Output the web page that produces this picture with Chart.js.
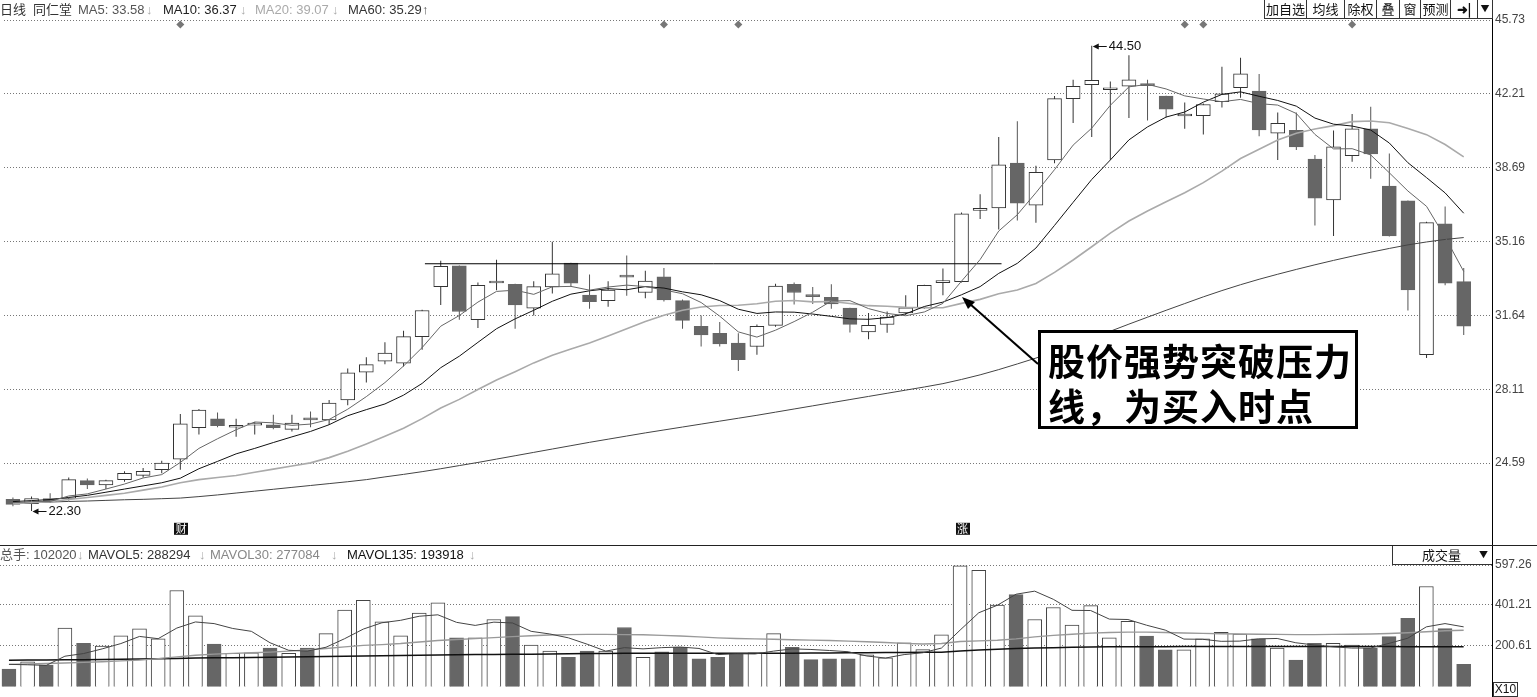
<!DOCTYPE html>
<html>
<head>
<meta charset="utf-8">
<title>同仁堂 日线</title>
<script src="https://cdn.jsdelivr.net/npm/chart.js@4.4.1/dist/chart.umd.min.js"></script>
<style>
  html, body { margin: 0; padding: 0; background: #fff; }
  body { position: relative; width: 1537px; height: 697px; overflow: hidden;
         font-family: "Liberation Sans", Arial, "Noto Sans CJK SC", sans-serif; color: #333; }
  canvas { position: absolute; left: 0; }
  .t { position: absolute; font-size: 13px; line-height: 16px; white-space: nowrap; }
  .ar { position: absolute; font-size: 13px; line-height: 16px; font-weight: bold; color: #aaa; }
  #btns { position: absolute; left: 1265px; top: 0; display: flex; }
  #btns span { box-sizing: border-box; height: 19px; border: 1px solid #333; border-top: none;
               margin-left: -1px; font: 13px/18px "Noto Sans CJK SC", sans-serif; color: #111;
               text-align: center; background: #fff; }
  #axisLine { position: absolute; left: 1492px; top: 0; width: 1px; height: 697px; background: #000; }
  #sep { position: absolute; left: 0; top: 545px; width: 1537px; height: 1px; background: #222; }
  #volSel { position: absolute; left: 1392px; top: 546px; width: 100px; height: 19px; box-sizing: border-box;
            border-left: 1px solid #333; border-bottom: 1px solid #333; background: #fff;
            font: 13px/18px "Noto Sans CJK SC", sans-serif; color: #111; }
  #x10 { position: absolute; left: 1493px; top: 682px; width: 25px; height: 15px; box-sizing: border-box;
         border: 1px solid #333; font-size: 12px; line-height: 13px; text-align: center; color: #111; }
  #note { position: absolute; left: 1038px; top: 330px; width: 320px; height: 99px; box-sizing: border-box;
          border: 3px solid #000; background: #fff; padding: 5px 0 0 7px; letter-spacing: 1px;
          font: 700 37px/45px "Noto Sans CJK SC", sans-serif; color: #000; white-space: nowrap; }
  svg { position: absolute; left: 0; top: 0; }
</style>
</head>
<body>
<canvas id="priceChart" width="1537" height="546" style="top:0"></canvas>
<canvas id="volChart" width="1537" height="151" style="top:546px"></canvas>

<div id="axisLine"></div>
<div id="sep"></div>

<!-- price header -->
<span class="t" style="left:0;top:2px">日线</span>
<span class="t" style="left:33px;top:2px">同仁堂</span>
<span class="t" style="left:78px;top:2px;color:#555">MA5: 33.58</span><span class="ar" style="left:146px;top:2px">↓</span>
<span class="t" style="left:163px;top:2px;color:#222">MA10: 36.37</span><span class="ar" style="left:240px;top:2px">↓</span>
<span class="t" style="left:255px;top:2px;color:#aaa">MA20: 39.07</span><span class="ar" style="left:332px;top:2px">↓</span>
<span class="t" style="left:348px;top:2px;color:#333">MA60: 35.29</span><span class="ar" style="left:422px;top:2px;color:#555">↑</span>

<div id="btns">
  <span style="width:43px">加自选</span><span style="width:39px">均线</span><span style="width:33px">除权</span><span style="width:24px">叠</span><span style="width:22px">窗</span><span style="width:31px">预测</span><span style="width:28px;font-weight:bold">➜|</span><span style="width:16px;font-size:9px">▼</span>
</div>

<!-- volume header -->
<span class="t" style="left:0;top:547px;color:#555">总手: 102020</span><span class="ar" style="left:77px;top:547px">↓</span>
<span class="t" style="left:88px;top:547px;color:#333">MAVOL5: 288294</span><span class="ar" style="left:199px;top:547px">↓</span>
<span class="t" style="left:210px;top:547px;color:#888">MAVOL30: 277084</span><span class="ar" style="left:331px;top:547px">↓</span>
<span class="t" style="left:347px;top:547px;color:#111">MAVOL135: 193918</span><span class="ar" style="left:469px;top:547px">↓</span>

<div id="volSel"><span style="position:absolute;left:29px">成交量</span><span style="position:absolute;left:86px;font-size:9px">▼</span></div>
<div id="x10">X10</div>

<svg width="1537" height="697">
  <line x1="1038" y1="364" x2="970" y2="304" stroke="#000" stroke-width="2"/>
  <polygon points="962,297 975,302 968,309" fill="#000"/>
</svg>
<div id="note">股价强势突破压力<br>线，为买入时点</div>

<script>
// ===== 同仁堂 日K线 + 成交量 =====

const priceTicks = [24.59, 28.11, 31.64, 35.16, 38.69, 42.21, 45.73];
const volTicks = [200.61, 401.21, 597.26];

const opens = [22.86, 22.65, 22.90, 22.90, 23.75, 23.55, 23.80, 24.00, 24.27, 24.78,
  26.28, 26.70, 26.30, 26.40, 26.42, 26.20, 26.68, 26.65, 27.60, 28.93,
  29.45, 29.36, 30.62, 33.01, 34.00, 31.43, 33.18, 33.12, 31.98, 32.99,
  34.13, 32.60, 32.34, 33.50, 32.73, 33.48, 32.34, 31.12, 30.78, 30.31,
  30.15, 31.16, 33.12, 32.55, 32.50, 31.98, 30.85, 31.20, 31.75, 31.99,
  33.20, 33.24, 36.65, 36.76, 38.90, 36.90, 39.05, 41.98, 42.65, 42.40,
  42.57, 42.62, 42.10, 41.15, 41.16, 41.83, 42.50, 42.34, 40.33, 40.46,
  39.10, 37.15, 39.26, 40.54, 37.80, 37.10, 29.76, 36.01, 33.25];
const highs = [22.95, 23.00, 23.15, 23.90, 23.85, 23.80, 24.20, 24.35, 24.70, 26.93,
  27.17, 27.00, 26.70, 26.55, 26.90, 26.90, 27.05, 27.60, 29.10, 29.64,
  30.35, 30.90, 31.90, 34.24, 34.02, 33.20, 34.29, 33.14, 33.27, 35.15,
  34.15, 33.59, 33.27, 34.49, 33.77, 33.90, 32.40, 31.63, 31.32, 30.78,
  31.20, 33.15, 33.20, 32.99, 33.12, 32.00, 31.75, 31.82, 32.60, 33.10,
  33.87, 36.55, 37.42, 40.15, 40.90, 38.77, 42.10, 42.88, 44.50, 42.80,
  44.05, 42.88, 42.12, 41.79, 41.75, 43.50, 43.93, 43.15, 41.32, 41.32,
  39.29, 40.46, 41.24, 41.59, 39.36, 37.12, 36.10, 36.83, 33.90];
const lows = [22.53, 22.30, 22.70, 22.80, 23.35, 23.35, 23.70, 23.90, 24.10, 24.27,
  25.95, 26.30, 25.85, 25.95, 26.20, 26.10, 26.30, 26.42, 27.35, 28.43,
  29.30, 29.20, 30.00, 32.13, 31.43, 31.04, 32.84, 31.00, 31.63, 32.68,
  33.00, 31.95, 32.05, 32.57, 32.45, 32.30, 31.00, 30.15, 30.15, 28.98,
  29.76, 31.10, 32.15, 32.18, 31.95, 30.82, 30.50, 30.81, 31.65, 31.95,
  32.60, 33.20, 36.24, 35.74, 36.16, 36.06, 38.90, 40.82, 40.15, 39.06,
  41.05, 40.93, 41.08, 40.54, 40.27, 41.55, 42.02, 40.18, 39.05, 39.53,
  35.93, 35.43, 38.97, 38.15, 35.40, 31.87, 29.60, 33.08, 30.70];
const closes = [22.62, 22.90, 22.75, 23.80, 23.55, 23.75, 24.10, 24.20, 24.59, 26.46,
  27.12, 26.37, 26.35, 26.45, 26.28, 26.50, 26.65, 27.45, 28.90, 29.29,
  29.84, 30.62, 31.87, 33.98, 31.82, 33.07, 33.22, 32.13, 33.01, 33.62,
  33.17, 32.29, 32.84, 33.46, 33.27, 32.38, 31.40, 30.70, 30.27, 29.52,
  31.12, 33.04, 32.73, 32.53, 32.18, 31.21, 31.16, 31.56, 32.00, 33.07,
  33.25, 36.48, 36.68, 38.82, 36.99, 38.46, 41.98, 42.57, 42.85, 42.42,
  42.88, 42.60, 41.47, 41.16, 41.70, 42.21, 43.16, 40.49, 40.80, 39.68,
  37.23, 39.68, 40.54, 39.34, 35.43, 32.85, 36.06, 33.17, 31.12];

const ma5 = [22.70, 22.76, 22.76, 23.02, 23.12, 23.35, 23.59, 23.88, 24.04, 24.62,
  25.29, 25.75, 26.18, 26.55, 26.51, 26.39, 26.45, 26.67, 27.16, 27.76,
  28.43, 29.22, 30.10, 31.12, 31.63, 32.27, 32.78, 32.84, 32.64, 33.00,
  33.02, 32.84, 32.99, 33.08, 33.01, 32.85, 32.67, 32.25, 31.60, 30.85,
  30.60, 30.93, 31.34, 31.79, 32.32, 32.34, 31.96, 31.73, 31.62, 31.80,
  32.21, 33.27, 34.30, 35.66, 36.44, 37.49, 38.59, 39.76, 40.57, 41.66,
  42.54, 42.66, 42.44, 42.11, 41.96, 41.83, 41.94, 41.74, 41.67, 41.27,
  40.27, 39.58, 39.59, 39.29, 38.44, 37.57, 36.84, 35.37, 33.73];
const ma10 = [22.75, 22.80, 22.85, 22.95, 23.05, 23.20, 23.35, 23.50, 23.65, 23.87,
  24.32, 24.67, 25.03, 25.29, 25.57, 25.84, 26.10, 26.42, 26.85, 27.14,
  27.41, 27.83, 28.39, 29.14, 29.69, 30.35, 31.00, 31.47, 31.88, 32.31,
  32.65, 32.81, 32.91, 32.86, 33.01, 32.94, 32.76, 32.62, 32.34, 31.93,
  31.73, 31.80, 31.79, 31.70, 31.59, 31.47, 31.45, 31.53, 31.71, 32.06,
  32.27, 32.62, 33.01, 33.64, 34.12, 34.85, 35.93, 37.03, 38.12, 39.05,
  40.01, 40.63, 41.10, 41.34, 41.81, 42.18, 42.30, 42.09, 41.89, 41.62,
  41.05, 40.76, 40.67, 40.48, 39.86, 38.92, 38.21, 37.48, 36.51];
const ma20 = [22.65, 22.70, 22.75, 22.85, 22.95, 23.05, 23.15, 23.30, 23.45, 23.65,
  23.80, 23.90, 24.00, 24.15, 24.30, 24.45, 24.60, 24.85, 25.15, 25.50,
  25.87, 26.25, 26.71, 27.22, 27.63, 28.10, 28.55, 28.95, 29.37, 29.73,
  30.03, 30.32, 30.65, 31.00, 31.35, 31.64, 31.88, 32.04, 32.11, 32.12,
  32.19, 32.31, 32.35, 32.28, 32.30, 32.20, 32.10, 32.07, 32.02, 32.00,
  32.00, 32.21, 32.40, 32.67, 32.85, 33.16, 33.69, 34.28, 34.91, 35.56,
  36.14, 36.62, 37.06, 37.49, 37.97, 38.52, 39.12, 39.56, 40.00, 40.33,
  40.53, 40.69, 40.88, 40.91, 40.83, 40.55, 40.26, 39.79, 39.20];
const ma60 = [22.68, 22.70, 22.73, 22.76, 22.78, 22.81, 22.84, 22.86, 22.89, 22.92,
  22.99, 23.07, 23.16, 23.25, 23.34, 23.43, 23.52, 23.61, 23.70, 23.80,
  23.93, 24.05, 24.18, 24.32, 24.47, 24.62, 24.78, 24.94, 25.10, 25.26,
  25.42, 25.58, 25.73, 25.88, 26.03, 26.17, 26.31, 26.45, 26.59, 26.73,
  26.87, 27.02, 27.17, 27.32, 27.47, 27.62, 27.77, 27.92, 28.07, 28.22,
  28.38, 28.58, 28.80, 29.05, 29.32, 29.60, 29.90, 30.22, 30.55, 30.88,
  31.22, 31.55, 31.88, 32.20, 32.52, 32.82, 33.10, 33.36, 33.60, 33.83,
  34.05, 34.26, 34.46, 34.65, 34.83, 35.00, 35.14, 35.26, 35.35];

// 成交量 (thousand lots)
const volumes = [87, 122, 107, 288, 213, 200, 250, 284, 235, 472,
  348, 210, 164, 167, 190, 164, 190, 261, 376, 424,
  318, 250, 361, 412, 240, 240, 330, 344, 205, 175,
  145, 175, 175, 291, 145, 172, 193, 137, 145, 163,
  167, 261, 193, 133, 137, 137, 157, 142, 216, 182,
  255, 593, 571, 401, 452, 330, 389, 303, 398, 240,
  321, 249, 181, 181, 235, 267, 258, 235, 190, 131,
  213, 213, 204, 190, 246, 336, 492, 285, 110];
const mavol5 = [110, 108, 105, 150, 163, 186, 212, 247, 236, 288,
  318, 310, 286, 272, 216, 179, 175, 194, 236, 283,
  314, 326, 346, 353, 316, 301, 317, 313, 272, 259,
  240, 209, 175, 192, 186, 192, 195, 188, 158, 162,
  161, 175, 186, 183, 178, 172, 151, 141, 158, 167,
  190, 278, 363, 400, 454, 469, 429, 375, 374, 332,
  330, 302, 278, 234, 233, 223, 224, 235, 237, 216,
  205, 196, 190, 190, 213, 238, 294, 310, 294];
const mavol30 = [110, 112, 114, 117, 120, 123, 127, 131, 138, 147,
  155, 160, 164, 167, 170, 175, 181, 188, 196, 203,
  207, 212, 220, 227, 232, 236, 241, 246, 250, 254,
  256, 257, 257, 256, 255, 252, 249, 245, 240, 237,
  235, 233, 231, 229, 227, 224, 221, 217, 213, 210,
  212, 222, 225, 228, 235, 245, 252, 258, 263, 266,
  268, 268, 266, 264, 262, 260, 259, 258, 257, 256,
  256, 257, 258, 259, 261, 265, 270, 275, 277];
const mavol135 = [130, 131, 132, 133, 133, 134, 135, 136, 137, 139,
  141, 142, 143, 144, 145, 146, 147, 148, 150, 151,
  152, 153, 155, 156, 157, 158, 158, 159, 160, 161,
  162, 163, 163, 164, 164, 164, 164, 164, 164, 164,
  165, 165, 165, 166, 166, 167, 167, 168, 168, 169,
  170, 175, 180, 184, 188, 190, 192, 194, 195, 196,
  197, 197, 197, 198, 198, 198, 198, 198, 198, 198,
  198, 198, 198, 198, 198, 197, 197, 196, 196];

const markIdx = [9, 35, 39, 63, 64, 72];   // 信息地雷
const markPrice = 45.52;
const tagIdx = [9, 51];
const tagText = ["财", "涨"];
const resistFrom = 22.15, resistTo = 53.15, resistPrice = 34.10;

// ---------------------------------------------------------------

const n = closes.length;
const isUp = i => closes[i] >= opens[i];
const xMin = -0.48, xMax = n + 0.52;

function lineSet(label, values, color, width) {
  return {
    type: "line", label: label, order: 0,
    data: values.map((v, i) => ({ x: i, y: v })),
    borderColor: color, borderWidth: width, pointRadius: 0, tension: 0, fill: false
  };
}

const gridOpts = { color: "#777", lineWidth: 1, drawTicks: false };
const tickFont = { family: "Liberation Sans, Arial", size: 12 };

function rightAxis(min, max, ticks) {
  return {
    position: "right", min: min, max: max,
    afterBuildTicks: s => { s.ticks = ticks.map(v => ({ value: v })); },
    afterFit: s => { s.width = 45; },
    grid: gridOpts,
    border: { display: false, dash: [1, 2] },
    ticks: { padding: 3, color: "#444", font: tickFont, callback: v => v.toFixed(2) }
  };
}

const xAxis = { type: "linear", min: xMin, max: xMax, offset: false, display: false };

// 标签: 财 / 涨, 最高 / 最低价
const extraMarks = {
  id: "extraMarks",
  afterDatasetsDraw(chart) {
    const { ctx, chartArea } = chart;
    const x = chart.scales.x, y = chart.scales.y;
    ctx.save();
    ctx.textBaseline = "middle";
    tagIdx.forEach((k, j) => {
      const px = x.getPixelForValue(k);
      ctx.fillStyle = "#111";
      ctx.fillRect(Math.round(px - 6), chartArea.bottom - 13, 14, 12);
      ctx.fillStyle = "#fff";
      ctx.font = "11px 'Noto Sans CJK SC'";
      ctx.textAlign = "center";
      ctx.fillText(tagText[j], px + 1, chartArea.bottom - 7);
    });

    const hiVal = Math.max(...highs), loVal = Math.min(...lows);
    const pin = (i, v) => {
      const px = x.getPixelForValue(i) + 1, py = Math.round(y.getPixelForValue(v)) + 0.5;
      ctx.strokeStyle = "#111"; ctx.fillStyle = "#111"; ctx.lineWidth = 1;
      ctx.beginPath(); ctx.moveTo(px + 3, py); ctx.lineTo(px + 14, py); ctx.stroke();
      ctx.beginPath(); ctx.moveTo(px, py); ctx.lineTo(px + 6, py - 3); ctx.lineTo(px + 6, py + 3); ctx.fill();
      ctx.font = "13px 'Liberation Sans', Arial";
      ctx.textAlign = "left";
      ctx.fillText(v.toFixed(2), px + 16, py);
    };
    pin(highs.indexOf(hiVal), hiVal);
    pin(lows.indexOf(loVal), loVal);
    ctx.restore();
  }
};

new Chart(document.getElementById("priceChart"), {
  type: "bar",
  data: {
    datasets: [
      lineSet("MA5", ma5, "#666", 1),
      lineSet("MA10", ma10, "#111", 1),
      lineSet("MA20", ma20, "#aaa", 1.6),
      lineSet("MA60", ma60, "#444", 1),
      {
        type: "line", order: 0, label: "压力线",
        data: [{ x: resistFrom, y: resistPrice }, { x: resistTo, y: resistPrice }],
        borderColor: "#000", borderWidth: 1, pointRadius: 0
      },
      {
        type: "line", order: 0, label: "mark", showLine: false,
        data: markIdx.map(i => ({ x: i, y: markPrice })),
        pointStyle: "rectRot", pointRadius: 4, backgroundColor: "#777", borderWidth: 0
      },
      {
        label: "body", order: 1, grouped: false,
        data: closes.map((c, i) => ({ x: i, y: [opens[i], c] })),
        backgroundColor: c => isUp(c.dataIndex) ? "#fff" : "#666",
        borderColor: c => isUp(c.dataIndex) ? "#333" : "#666",
        borderWidth: 1, borderSkipped: false, barThickness: 14, minBarLength: 2
      },
      {
        label: "wick", order: 2, grouped: false,
        data: highs.map((h, i) => ({ x: i, y: [lows[i], h] })),
        backgroundColor: c => isUp(c.dataIndex) ? "#333" : "#555",
        borderWidth: 0, barThickness: 1, inflateAmount: 0
      }
    ]
  },
  options: {
    responsive: false, animation: false,
    layout: { padding: { top: 20, bottom: 1, left: 0, right: 0 } },
    plugins: { legend: { display: false }, tooltip: { enabled: false } },
    scales: { x: xAxis, y: rightAxis(21.12, 45.73, priceTicks) }
  },
  plugins: [extraMarks]
});

new Chart(document.getElementById("volChart"), {
  type: "bar",
  data: {
    datasets: [
      lineSet("MAVOL5", mavol5, "#444", 1),
      lineSet("MAVOL30", mavol30, "#999", 1.4),
      lineSet("MAVOL135", mavol135, "#111", 1.5),
      {
        label: "成交量", order: 1,
        data: volumes.map((v, i) => ({ x: i, y: v })),
        backgroundColor: c => isUp(c.dataIndex) ? "#fff" : "#666",
        borderColor: c => isUp(c.dataIndex) ? "#444" : "#666",
        borderWidth: 1, borderSkipped: "start", barThickness: 14
      }
    ]
  },
  options: {
    responsive: false, animation: false,
    layout: { padding: { top: 19, bottom: 0, left: 0, right: 0 } },
    plugins: { legend: { display: false }, tooltip: { enabled: false } },
    scales: { x: xAxis, y: rightAxis(0, 597.26, volTicks) }
  }
});
</script>
</body>
</html>
